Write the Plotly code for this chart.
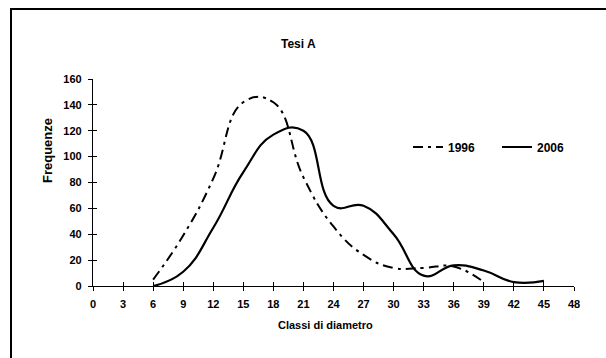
import plotly.graph_objects as go

classes_1996 = [6, 9, 12, 15, 18, 21, 24, 27, 30, 33, 36, 39]
freq_1996 = [5, 39, 83, 142, 142, 84, 46, 24, 14, 14, 15, 3]

classes_2006 = [6, 9, 12, 15, 18, 21, 24, 27, 30, 33, 36, 39, 42, 45]
freq_2006 = [0, 11, 45, 88, 117, 120, 62, 62, 40, 8, 16, 12, 3, 4]

x_ticks = list(range(0, 49, 3))
y_ticks = list(range(0, 161, 20))

W, H = 606, 358
L, R, T, B = 93, 32, 79, 72
pw = W - L - R
ph = H - T - B

def px_x(p):
    return (p - L) / pw

def px_y(p):
    return (H - B - p) / ph

FONT = "Liberation Sans, Arial, sans-serif"

fig = go.Figure()
fig.add_trace(go.Scatter(
    x=classes_1996, y=freq_1996, name="1996", mode="lines",
    line=dict(color="black", width=2, dash="10px,5px,3px,5px", shape="spline", smoothing=1.3),
))
fig.add_trace(go.Scatter(
    x=classes_2006, y=freq_2006, name="2006", mode="lines",
    line=dict(color="black", width=2.2, shape="spline", smoothing=1.3),
))
# overlay axes to create crossing tick marks
fig.add_trace(go.Scatter(x=[0], y=[0], xaxis="x2", yaxis="y2", mode="markers",
                         marker=dict(opacity=0), showlegend=False, hoverinfo="skip"))

axis_font = dict(family=FONT, size=11, color="black", weight="bold")

fig.update_layout(
    width=W, height=H,
    margin=dict(l=L, r=R, t=T, b=B, pad=0, autoexpand=False),
    paper_bgcolor="white", plot_bgcolor="white",
    showlegend=True,
    legend=dict(orientation="h", x=px_x(408), y=px_y(147), xanchor="left", yanchor="middle",
                font=dict(family=FONT, size=12, color="black", weight="bold"),
                bgcolor="rgba(0,0,0,0)", entrywidth=44, entrywidthmode="pixels",
                tracegroupgap=0),
    xaxis=dict(range=[0, 48], tickvals=x_ticks, ticktext=[str(v) for v in x_ticks],
               showgrid=False, zeroline=False, showline=True, linecolor="black", linewidth=1.3,
               ticks="outside", ticklen=4, tickwidth=1.3, tickcolor="black",
               ticklabelstandoff=4, tickfont=axis_font, fixedrange=True),
    yaxis=dict(range=[0, 160], tickvals=y_ticks,
               showgrid=False, zeroline=False, showline=True, linecolor="black", linewidth=1.3,
               ticks="outside", ticklen=4, tickwidth=1.3, tickcolor="black",
               ticklabelstandoff=4, tickfont=axis_font, fixedrange=True),
    xaxis2=dict(range=[0, 48], tickvals=x_ticks, overlaying="x", anchor="y2", side="bottom",
                showgrid=False, zeroline=False, showline=False, showticklabels=False,
                ticks="inside", ticklen=4, tickwidth=1.3, tickcolor="black", fixedrange=True),
    yaxis2=dict(range=[0, 160], tickvals=y_ticks, overlaying="y", anchor="x2", side="left",
                showgrid=False, zeroline=False, showline=False, showticklabels=False,
                ticks="inside", ticklen=4, tickwidth=1.3, tickcolor="black", fixedrange=True),
    shapes=[dict(type="rect", xref="paper", yref="paper",
                 x0=px_x(11), x1=px_x(W + 20), y0=px_y(H + 20), y1=px_y(9),
                 line=dict(color="black", width=2), layer="above")],
    annotations=[
        dict(text="Tesi A", xref="paper", yref="paper", x=px_x(298), y=px_y(44),
             xanchor="center", yanchor="middle", showarrow=False,
             font=dict(family=FONT, size=12, color="black", weight="bold")),
        dict(text="Classi di diametro", xref="paper", yref="paper", x=px_x(325), y=px_y(325),
             xanchor="center", yanchor="middle", showarrow=False,
             font=dict(family=FONT, size=11, color="black", weight="bold")),
        dict(text="Frequenze", xref="paper", yref="paper", x=px_x(47), y=px_y(151),
             xanchor="center", yanchor="middle", showarrow=False, textangle=-90,
             font=dict(family=FONT, size=13, color="black", weight="bold")),
    ],
)

fig.write_html("out.html")
